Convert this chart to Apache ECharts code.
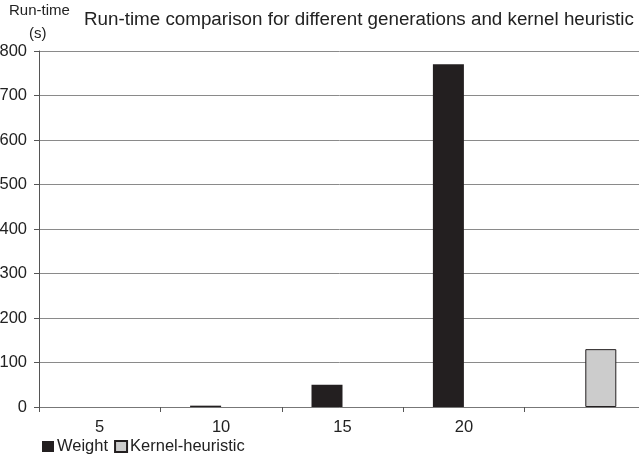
<!DOCTYPE html>
<html>
<head>
<meta charset="utf-8">
<script src="https://cdn.jsdelivr.net/npm/echarts@6/dist/echarts.min.js"></script>
<style>
  html, body { margin: 0; padding: 0; background: #fff; }
  #chart { width: 639px; height: 457px; }
</style>
</head>
<body>
<div id="chart"></div>
<script>
// Generations on the x axis; the last slot holds the kernel heuristic bar
const categories = ['5', '10', '15', '20', ''];
const weightSeconds = [0, 3, 50, 770, null];
const kernelSeconds = [null, null, null, null, 130];
const yTicks = { min: 0, max: 800, interval: 100 };
const yUnitLines = ['Run-time', '(s)'];

const FONT = 'Liberation Sans, Arial, sans-serif';
const chart = echarts.init(document.getElementById('chart'));

const unitStyle = { fontFamily: FONT, fontSize: 15, fontWeight: 'normal', color: '#222' };

chart.setOption({
  animation: false,
  backgroundColor: '#ffffff',
  textStyle: { fontFamily: FONT, color: '#222' },
  title: [
    {
      text: 'Run-time comparison for different generations and kernel heuristic',
      left: 79,
      top: 5,
      textStyle: { fontFamily: FONT, fontSize: 18.8, fontWeight: 'normal', color: '#222' }
    },
    // y-axis unit, stacked over the axis
    { text: yUnitLines[0], left: 9, top: 3, padding: 0, textStyle: unitStyle },
    { text: yUnitLines[1], left: 29, top: 26, padding: 0, textStyle: unitStyle }
  ],
  legend: {
    left: 37,
    top: 433,
    itemWidth: 12,
    itemHeight: 11,
    itemGap: 6,
    icon: 'rect',
    textStyle: { fontFamily: FONT, fontSize: 16.5, color: '#222', padding: [0, 0, 0, -2] },
    data: ['Weight', 'Kernel-heuristic']
  },
  // plot area runs slightly past the right edge of the canvas
  grid: { left: 39, width: 607, top: 51, bottom: 50, outerBoundsMode: 'none', containLabel: false },
  xAxis: {
    type: 'category',
    data: categories,
    boundaryGap: true,
    axisLine: { lineStyle: { color: '#777', width: 1 } },
    axisTick: { show: true, length: 5, inside: false, lineStyle: { color: '#555' } },
    axisLabel: { fontFamily: FONT, fontSize: 16.5, color: '#222', margin: 12 }
  },
  yAxis: {
    type: 'value',
    min: yTicks.min,
    max: yTicks.max,
    interval: yTicks.interval,
    axisLine: { show: true, lineStyle: { color: '#555', width: 1 } },
    axisTick: { show: true, length: 5, lineStyle: { color: '#555' } },
    axisLabel: { fontFamily: FONT, fontSize: 16.5, color: '#222', margin: 12 },
    splitLine: { show: true, lineStyle: { color: '#8a8a8a', width: 1 } }
  },
  series: [
    {
      name: 'Weight',
      type: 'bar',
      data: weightSeconds,
      barWidth: 31,
      barGap: '0%',
      itemStyle: { color: '#231f20', borderColor: '#231f20', borderWidth: 0 }
    },
    {
      name: 'Kernel-heuristic',
      type: 'bar',
      data: kernelSeconds,
      barWidth: 31,
      barGap: '0%',
      itemStyle: { color: '#cccccc', borderColor: '#231f20', borderWidth: 1 }
    }
  ]
});
</script>
</body>
</html>
